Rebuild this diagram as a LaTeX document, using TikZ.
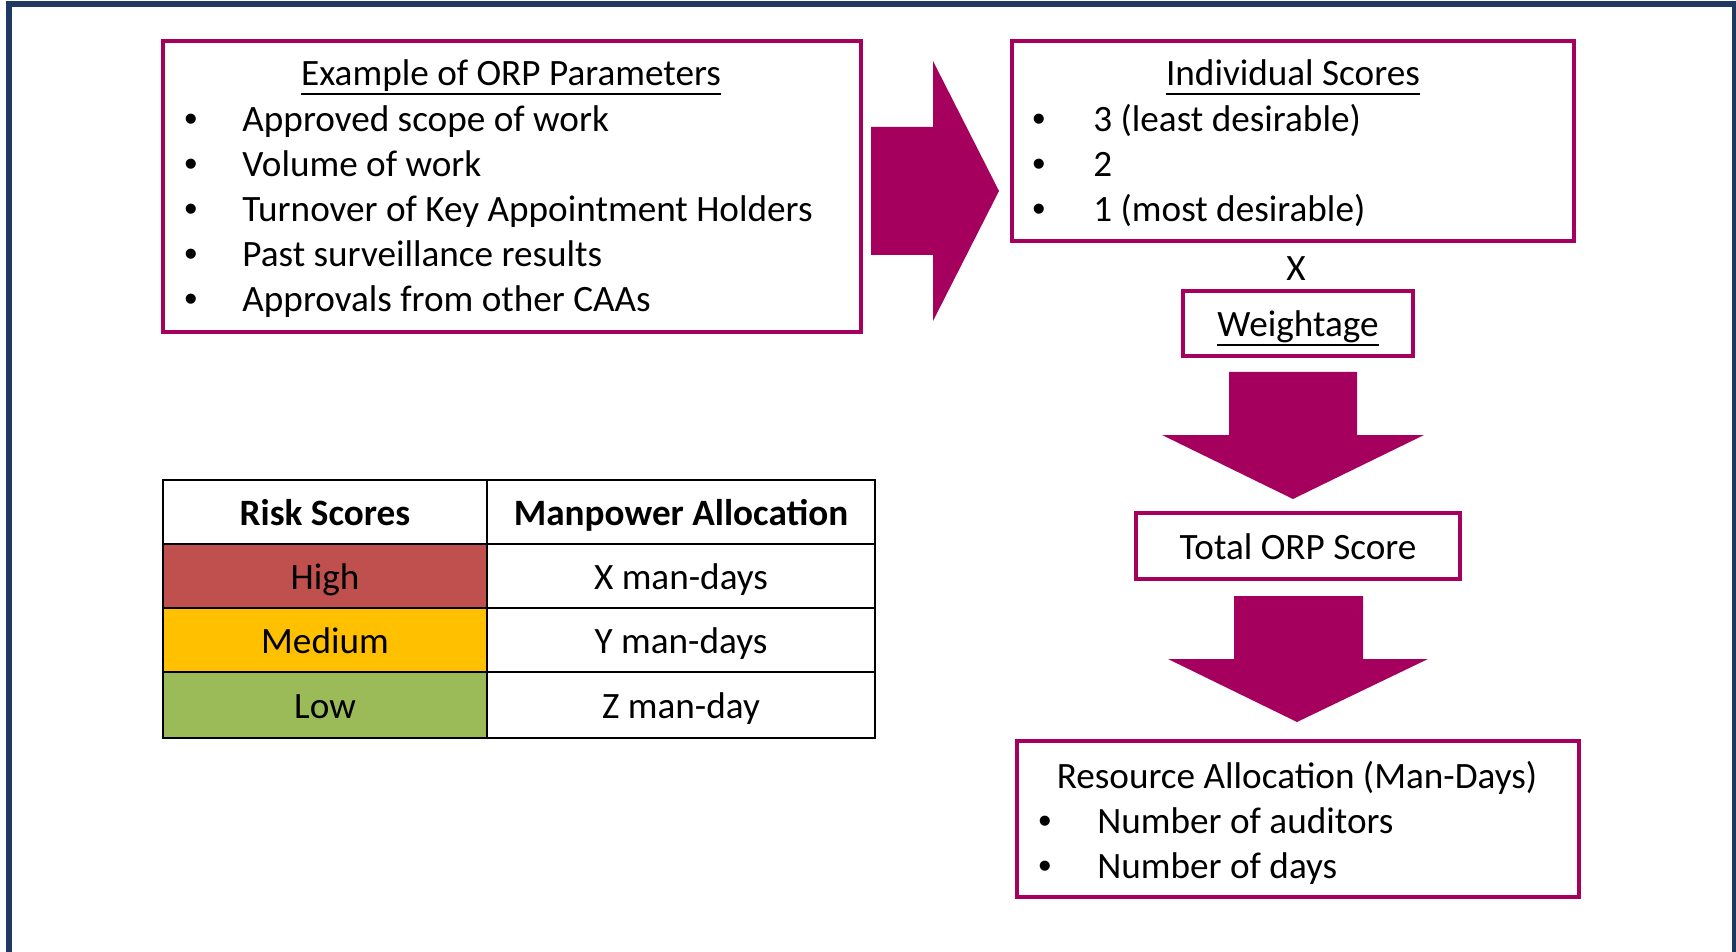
\documentclass[tikz,border=0pt]{standalone}
\usepackage{xcolor, fontspec}
\setmainfont{Carlito}
\newfontfamily\dotfont{Liberation Sans}
\usepackage{tikz}
\definecolor{orpmag}{RGB}{166,0,94}
\definecolor{framenavy}{RGB}{31,56,100}
\definecolor{riskhigh}{RGB}{192,80,77}
\definecolor{riskmed}{RGB}{255,192,0}
\definecolor{risklow}{RGB}{155,187,89}
\newcommand{\orpul}[1]{\setbox0\hbox{#1}\rlap{\rule[-4.6pt]{\wd0}{0.9pt}}\box0}

\begin{document}
\begin{tikzpicture}
[
x=0.5pt, y=-0.5pt,
every node/.style={font=\fontsize{18.6pt}{22pt}\selectfont},
orpbox/.style={draw=orpmag, line width=2pt, inner sep=0pt, text height=16pt, text depth=2.5pt},
ln/.style={anchor=base west, inner sep=0pt},
dot/.style={anchor=base west, inner sep=0pt, font=\dotfont\fontsize{18.6pt}{22pt}\selectfont},
ttl/.style={anchor=base, inner sep=0pt},
cell/.style={draw=black, line width=1.2pt, inner sep=0pt, text height=16pt, text depth=2.5pt, minimum height=32pt},
blockarrow/.style={fill=orpmag}
]
\useasboundingbox (0,0) rectangle (1736,952);
\draw[framenavy, line width=3pt] (8.5,1000) -- (8.5,4.5) -- (1735,4.5) -- (1735,1000);

\node[orpbox, minimum width=349pt, minimum height=145.5pt] (params) at (512,186.5) {};
\node[ttl] (paramsttl) at (511,86) {\orpul{Example of ORP Parameters}};
\foreach \y/\t [count=\i] in {132/Approved scope of work, 177/Volume of work,
	222/Turnover of Key Appointment Holders, 267/Past surveillance results,
	312/Approvals from other CAAs} {
	\node[dot] (pb\i) at (184,\y) {•};
	\node[ln] (pt\i) at (242,\y) {\t};
}

\node[orpbox, minimum width=281pt, minimum height=100pt] (scores) at (1293,141) {};
\node[ttl] (scoresttl) at (1293,86) {\orpul{Individual Scores}};
\foreach \y/\t [count=\i] in {132/3 (least desirable), 177/2, 222/1 (most desirable)} {
	\node[dot] (sb\i) at (1032,\y) {•};
	\node[ln] (st\i) at (1093,\y) {\t};
}
\node[ttl] (times) at (1296,281) {X};
\node[orpbox, minimum width=115pt, minimum height=32.5pt] (weight) at (1298,323.5) {\orpul{Weightage}};
\node[orpbox, minimum width=162pt, minimum height=33pt] (total) at (1298,546) {Total ORP Score};

\node[orpbox, minimum width=281pt, minimum height=78pt] (resource) at (1298,819) {};
\node[ttl] (resourcettl) at (1297,788) {Resource Allocation (Man-Days)};
\node[dot] (rb1) at (1038,833) {•};
\node[ln] (rt1) at (1097,833) {Number of auditors};
\node[dot] (rb2) at (1038,878) {•};
\node[ln] (rt2) at (1097,878) {Number of days};

\fill[blockarrow] (871,127) -- (933,127) -- (933,61) -- (999,191) -- (933,321) -- (933,255) -- (871,255) -- cycle;
\fill[blockarrow] (1229,372) -- (1357,372) -- (1357,435) -- (1424,435) -- (1293,499) -- (1162,435) -- (1229,435) -- cycle;
\fill[blockarrow] (1234,596) -- (1363,596) -- (1363,659) -- (1428,659) -- (1297,722) -- (1168,659) -- (1234,659) -- cycle;

\node[cell, minimum width=162pt] (hrisk) at (325,512) {\bfseries Risk Scores};
\node[cell, minimum width=194pt] (hman) at (681,512) {\bfseries Manpower Allocation};
\node[cell, minimum width=162pt, fill=riskhigh] (high) at (325,576) {High};
\node[cell, minimum width=194pt] (highman) at (681,576) {X man-days};
\node[cell, minimum width=162pt, fill=riskmed] (med) at (325,640) {Medium};
\node[cell, minimum width=194pt] (medman) at (681,640) {Y man-days};
\node[cell, minimum width=162pt, minimum height=33pt, fill=risklow] (low) at (325,705) {Low};
\node[cell, minimum width=194pt, minimum height=33pt] (lowman) at (681,705) {Z man-day};
\end{tikzpicture}
\end{document}
